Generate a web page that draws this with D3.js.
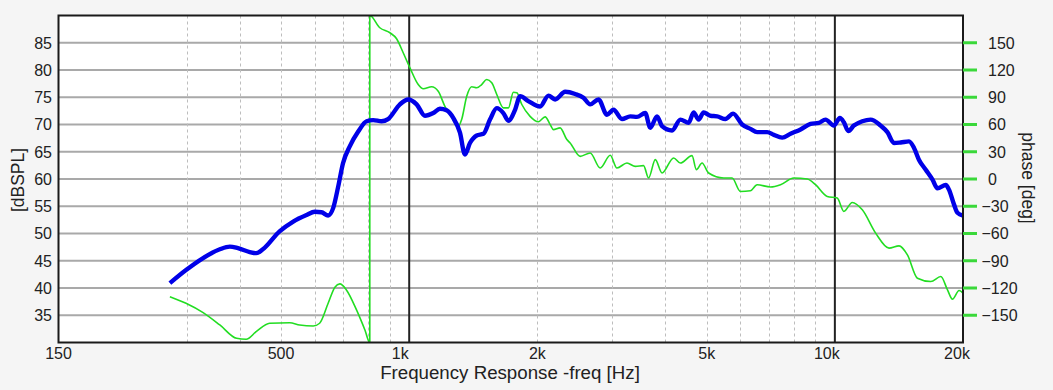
<!DOCTYPE html>
<html>
<head>
<meta charset="utf-8">
<script src="https://cdn.jsdelivr.net/npm/d3@7"></script>
<style>
  html, body { margin: 0; padding: 0; background: #f5f5f5; }
  svg { display: block; font-family: "Liberation Sans", Arial, sans-serif; }
</style>
</head>
<body>
<svg id="chart" width="1053" height="390"></svg>
<script>
// ---- data ----
const splFreq = [274,299,328,359,379,396,422,437,453,496,534,574,600,622,645,663,681,699,725,759,794,823,861,892,951,995,
  1041,1089,1139,1181,1224,1269,1316,1352,1389,1441,1494,1548,1606,1664,1710,1773,1822,1905,2030,2124,2202,2325,2455,2567,2662,2784,2914,
  3020,3161,3306,3428,3585,3685,3821,3926,4145,4335,4534,4658,4786,4917,5100,5289,5532,5768,6056,6334,6568,6934,7187,7521,7868,8307,8768,
  9170,9508,9945,10275,10500,10752,11082,11600,12134,12812,13286,13770,14280,14935,15346,15767,16350,16958,17422,18223,18550,19055,19409,20000];
const splDb = [40.9,43.3,45.5,47.1,47.6,47.3,46.6,46.4,47.1,50.4,52.2,53.4,54.0,53.9,53.3,54.7,58.6,62.9,66.0,68.7,70.6,70.8,70.6,71.0,73.7,74.6,
  73.7,71.6,72.1,72.9,72.6,71.2,68.5,64.5,66.6,68.0,68.3,70.9,73.0,72.1,70.7,72.7,75.2,74.3,73.3,75.3,74.6,76.0,75.6,74.9,73.7,74.6,71.8,
  72.7,71.0,71.5,71.4,72.1,69.4,71.5,69.7,68.9,70.9,70.3,72.2,70.9,72.2,71.6,71.5,71.0,72.0,70.0,69.2,68.6,68.6,68.1,67.6,68.3,69.1,70.1,
  70.3,70.9,69.8,71.2,70.4,68.8,69.8,70.6,70.9,69.8,68.6,66.6,66.7,66.9,65.7,63.5,61.7,59.9,58.3,58.9,58.0,55.3,53.8,53.3];

const phaseFreq = [274,299,328,359,393,414,437,470,524,553,595,616,645,669,687,712,752,787,808,808,853,901,934,968,1004,1050,1079,1129,1170,
  1213,1258,1304,1328,1365,1402,1441,1480,1521,1563,1606,1664,1710,1757,1790,1839,1923,2011,2086,2144,2182,2262,2346,2388,2521,2662,2810,
  2967,3076,3248,3398,3553,3650,3786,3926,4181,4335,4618,4727,4875,5052,5481,5736,5999,6334,6568,7062,7453,8009,8612,9009,9597,10130,
  10500,10987,11600,12470,13404,14148,14806,15630,16804,17736,18392,18890,19580,20000];
const phaseDeg = [-129.5,-136.8,-147.1,-160.7,-175.4,-176.5,-168.1,-158.8,-158.2,-160.7,-161.8,-158.8,-136.8,-119.1,-115.5,-122.1,-144.1,-166.2,-180,180,
  166.5,161,154.4,139,122.4,104,99.3,101.5,96.6,80,68.4,58,65.4,91.1,101.5,100.4,104,109.5,105.9,93,78.3,78.3,95.5,94.9,82,69,63,68.4,59.9,
  54.4,56.3,43.4,39.7,24.9,28.7,12.1,26.1,12.1,17.6,13.9,14.7,1.1,21.3,6.6,23.2,17.6,25.7,10.3,17.6,6.6,1.1,1.1,-13.7,-12.9,-6.3,-8.8,-6.3,
  1.1,0,-6.3,-19.2,-21,-35.7,-25.8,-33.9,-59.6,-76.1,-73.6,-83.5,-109.2,-112.9,-107.4,-122.1,-132.3,-122.8,-125.7];

const freqTicks = [150, 500, 1000, 2000, 5000, 10000, 20000];
const freqTickLabels = ["150", "500", "1k", "2k", "5k", "10k", "20k"];
const minorGridFreq = [300,400,500,600,700,800,900,2000,3000,4000,5000,6000,7000,8000,9000];
const majorGridFreq = [1000, 10000];
const splTicks = [35,40,45,50,55,60,65,70,75,80,85];
const phaseTicks = [-150,-120,-90,-60,-30,0,30,60,90,120,150];

const xTitle = "Frequency Response -freq [Hz]";
const yTitle = "[dBSPL]";
const y2Title = "phase [deg]";

// ---- layout ----
const L = 58.5, R = 963, T = 15.5, B = 342.5;
const svg = d3.select("#chart");

const x = d3.scaleLog().domain([150, 20000]).range([L, R]);
const y = d3.scaleLinear().domain([30, 90]).range([B, T]);
const y2 = d3.scaleLinear().domain([-180, 180]).range([B, T]);

svg.append("defs").append("clipPath").attr("id", "plotclip")
  .append("rect").attr("x", L).attr("y", T).attr("width", R - L).attr("height", B - T);

svg.append("rect").attr("x", L).attr("y", T).attr("width", R - L).attr("height", B - T).attr("fill", "#ffffff");

// horizontal grid
svg.append("g").selectAll("line").data(splTicks).join("line")
  .attr("x1", L).attr("x2", R).attr("y1", d => y(d)).attr("y2", d => y(d))
  .attr("stroke", "#a9a9a9").attr("stroke-width", 2);

// minor vertical grid (dashed)
svg.append("g").selectAll("line").data(minorGridFreq).join("line")
  .attr("x1", d => Math.round(x(d)) + 0.5).attr("x2", d => Math.round(x(d)) + 0.5)
  .attr("y1", T).attr("y2", B)
  .attr("stroke", "#bdbdbd").attr("stroke-width", 1).attr("stroke-dasharray", "3,3");

// major vertical grid
svg.append("g").selectAll("line").data(majorGridFreq).join("line")
  .attr("x1", d => x(d)).attr("x2", d => x(d)).attr("y1", T).attr("y2", B)
  .attr("stroke", "#222").attr("stroke-width", 2);

// curves
const gCurves = svg.append("g").attr("clip-path", "url(#plotclip)");
const phasePts = phaseFreq.map((f, i) => [f, phaseDeg[i]]);
gCurves.append("path").datum(phasePts)
  .attr("fill", "none").attr("stroke", "#22dd22").attr("stroke-width", 1.6)
  .attr("d", d3.line().x(d => x(d[0])).y(d => y2(d[1])).curve(d3.curveMonotoneX));
const splPts = splFreq.map((f, i) => [f, splDb[i]]);
gCurves.append("path").datum(splPts)
  .attr("fill", "none").attr("stroke", "#0000e8").attr("stroke-width", 4.4).attr("stroke-linejoin", "round")
  .attr("d", d3.line().x(d => x(d[0])).y(d => y(d[1])).curve(d3.curveMonotoneX));

// frame
svg.append("rect").attr("x", L).attr("y", T).attr("width", R - L).attr("height", B - T)
  .attr("fill", "none").attr("stroke", "#1a1a1a").attr("stroke-width", 2);

// left axis labels
svg.append("g").selectAll("text").data(splTicks).join("text")
  .attr("x", 52).attr("y", d => y(d)).attr("dy", "0.36em")
  .attr("text-anchor", "end").attr("font-size", 16).attr("fill", "#222")
  .text(d => d);

// right axis ticks + labels
svg.append("g").selectAll("line").data(phaseTicks).join("line")
  .attr("x1", R).attr("x2", R + 14).attr("y1", d => y2(d)).attr("y2", d => y2(d))
  .attr("stroke", "#3ad83a").attr("stroke-width", 3);
svg.append("g").selectAll("text").data(phaseTicks).join("text")
  .attr("x", d => d < 0 ? 981.5 : 988).attr("y", d => y2(d)).attr("dy", "0.36em")
  .attr("text-anchor", "start").attr("font-size", 16).attr("fill", "#222")
  .text(d => d < 0 ? "\u2212" + Math.abs(d) : d);

// bottom labels
const labelShift = {1000: -9, 10000: -8, 20000: -6};
svg.append("g").selectAll("text").data(freqTicks).join("text")
  .attr("x", d => x(d) + (labelShift[d] || 0)).attr("y", 353).attr("dy", "0.36em")
  .attr("text-anchor", "middle").attr("font-size", 16).attr("fill", "#222")
  .text((d, i) => freqTickLabels[i]);

// titles
svg.append("text").attr("x", 510).attr("y", 372).attr("dy", "0.36em")
  .attr("text-anchor", "middle").attr("font-size", 18.7).attr("fill", "#222").text(xTitle);
svg.append("text").attr("transform", "translate(18,180) rotate(-90)").attr("dy", "0.36em")
  .attr("text-anchor", "middle").attr("font-size", 17.5).attr("fill", "#222").text(yTitle);
svg.append("text").attr("transform", "translate(1028,178) rotate(90)").attr("dy", "0.36em")
  .attr("text-anchor", "middle").attr("font-size", 17.5).attr("fill", "#222").text(y2Title);
</script>
</body>
</html>
